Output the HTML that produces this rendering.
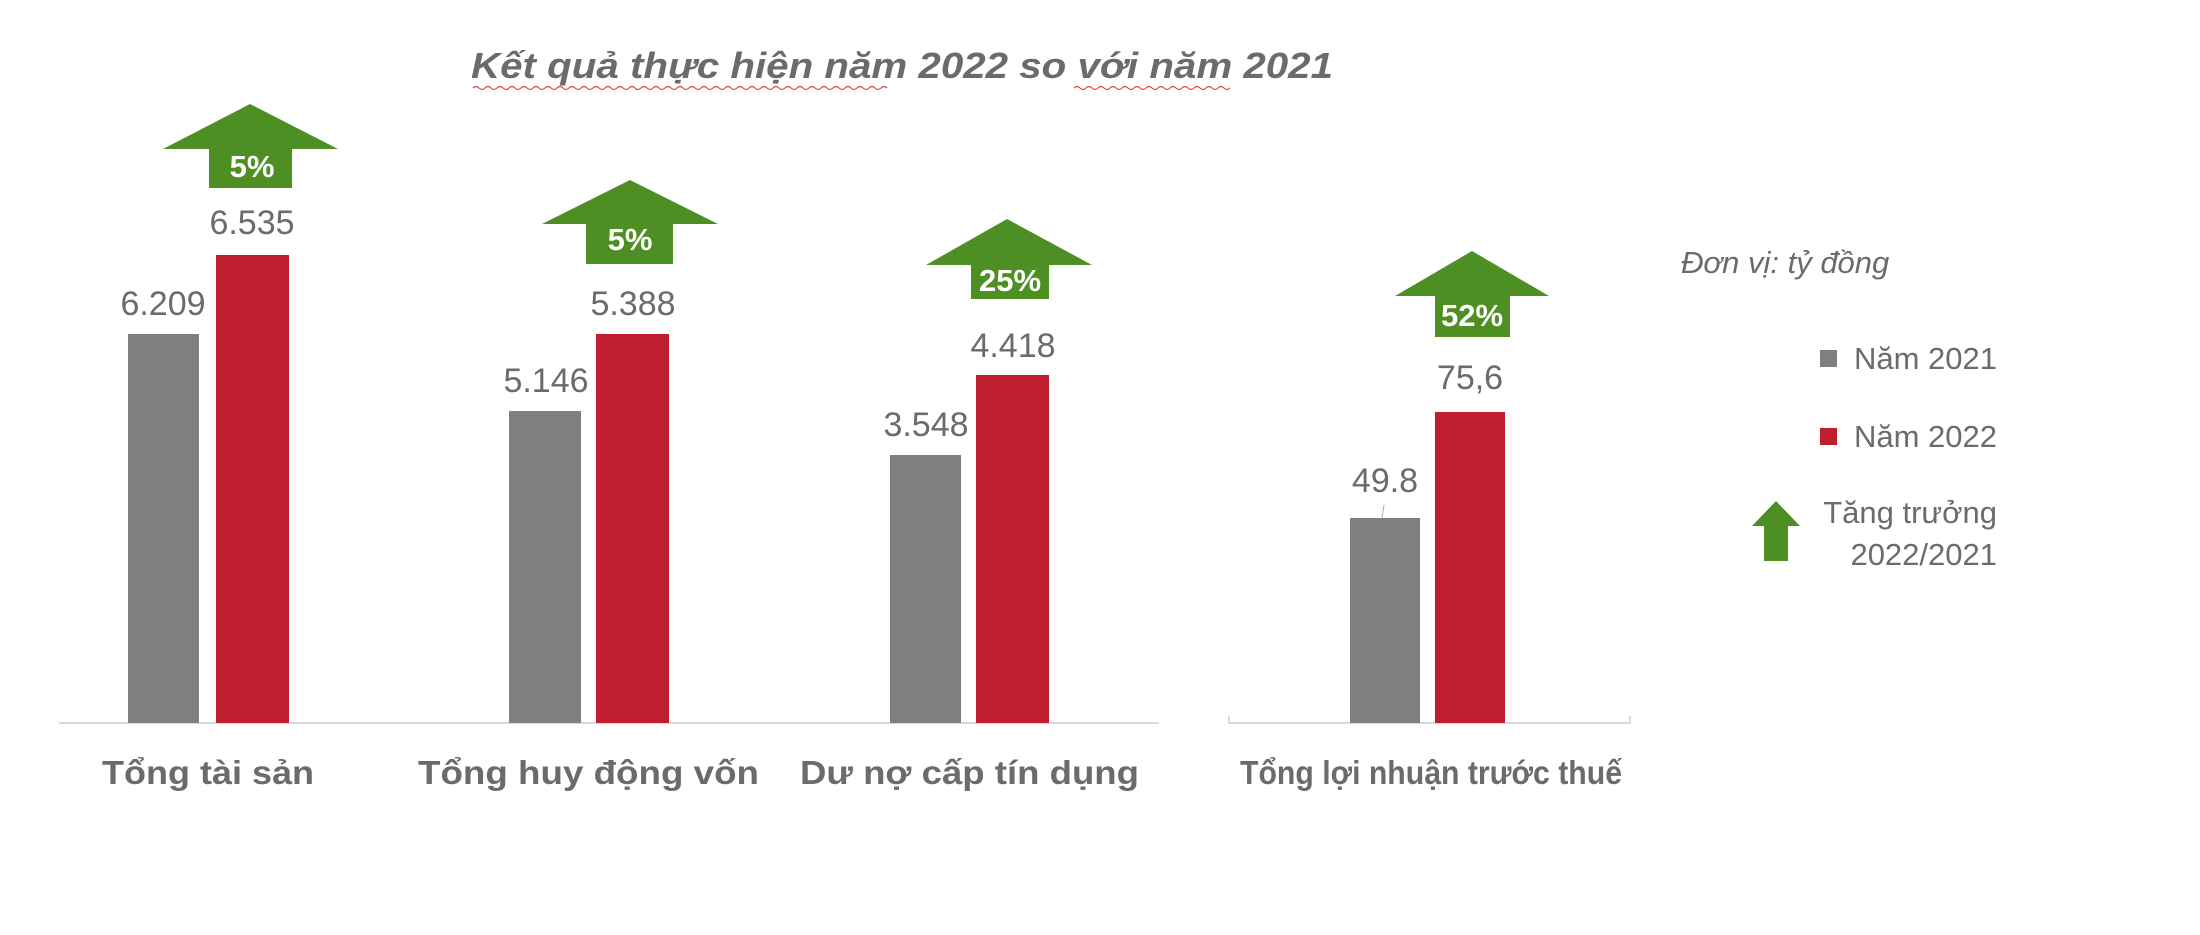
<!DOCTYPE html>
<html><head><meta charset="utf-8"><style>
body{margin:0;background:#fff;}
svg text{font-family:"Liberation Sans",sans-serif;}
</style></head><body>
<svg width="2200" height="930" viewBox="0 0 2200 930" xmlns="http://www.w3.org/2000/svg">
<rect width="2200" height="930" fill="#fff"/>
<text x="471" y="78" font-size="36" font-weight="bold" font-style="italic" fill="#6b6b6b" textLength="862" lengthAdjust="spacingAndGlyphs">Kết quả thực hiện năm 2022 so với năm 2021</text>
<path d="M473 88 q3 -3 6 0 t6 0 t6 0 t6 0 t6 0 t6 0 t6 0 t6 0 t6 0 t6 0 t6 0 t6 0 t6 0 t6 0 t6 0 t6 0 t6 0 t6 0 t6 0 t6 0 t6 0 t6 0 t6 0 t6 0 t6 0 t6 0 t6 0 t6 0 t6 0 t6 0 t6 0 t6 0 t6 0 t6 0 t6 0 t6 0 t6 0 t6 0 t6 0 t6 0 t6 0 t6 0 t6 0 t6 0 t6 0 t6 0 t6 0 t6 0 t6 0 t6 0 t6 0 t6 0 t6 0 t6 0 t6 0 t6 0 t6 0 t6 0 t6 0 t6 0 t6 0 t6 0 t6 0 t6 0 t6 0 t6 0 t6 0 t6 0 t6 0" fill="none" stroke="#e04040" stroke-width="1.2"/>
<path d="M1074 88 q3 -3 6 0 t6 0 t6 0 t6 0 t6 0 t6 0 t6 0 t6 0 t6 0 t6 0 t6 0 t6 0 t6 0 t6 0 t6 0 t6 0 t6 0 t6 0 t6 0 t6 0 t6 0 t6 0 t6 0 t6 0 t6 0 t6 0" fill="none" stroke="#e04040" stroke-width="1.2"/>
<line x1="59" y1="723" x2="1159" y2="723" stroke="#d9d9d9" stroke-width="2"/>
<path d="M1229 716 V723 H1630 V716" fill="none" stroke="#d9d9d9" stroke-width="2"/>
<g fill="#7f7f7f">
<rect x="128" y="334" width="71" height="389"/>
<rect x="509" y="411" width="72" height="312"/>
<rect x="890" y="455" width="71" height="268"/>
<rect x="1350" y="518" width="70" height="205"/>
</g>
<g fill="#be1e2d">
<rect x="216" y="255" width="73" height="468"/>
<rect x="596" y="334" width="73" height="389"/>
<rect x="976" y="375" width="73" height="348"/>
<rect x="1435" y="412" width="70" height="311"/>
</g>
<g font-size="34" fill="#6b6b6b" text-anchor="middle">
<text x="163" y="315">6.209</text>
<text x="252" y="234">6.535</text>
<text x="546" y="392">5.146</text>
<text x="633" y="315">5.388</text>
<text x="926" y="436">3.548</text>
<text x="1013" y="357">4.418</text>
<text x="1385" y="492">49.8</text>
<text x="1470" y="389">75,6</text>
</g>
<line x1="1384" y1="505" x2="1382" y2="518" stroke="#aaa" stroke-width="1"/>
<g fill="#4e8f24">
<path d="M250 104 L338 149 H292 V188 H209 V149 H163 Z"/>
<path d="M630 180 L718 224 H673 V264 H586 V224 H542 Z"/>
<path d="M1007 219 L1092 265 H1049 V299 H971 V265 H926 Z"/>
<path d="M1472 251 L1549 296 H1510 V337 H1435 V296 H1395 Z"/>
<path d="M1776 501 L1800 526 H1788 V561 H1764 V526 H1752 Z"/>
</g>
<g font-size="31" font-weight="bold" fill="#fff" text-anchor="middle">
<text x="252" y="177">5%</text>
<text x="630" y="250">5%</text>
<text x="1010" y="291">25%</text>
<text x="1472" y="326">52%</text>
</g>
<g font-size="33" font-weight="bold" fill="#6b6b6b">
<text x="102" y="784" textLength="212" lengthAdjust="spacingAndGlyphs">Tổng tài sản</text>
<text x="418" y="784" textLength="341" lengthAdjust="spacingAndGlyphs">Tổng huy động vốn</text>
<text x="800" y="784" textLength="339" lengthAdjust="spacingAndGlyphs">Dư nợ cấp tín dụng</text>
<text x="1240" y="784" textLength="382" lengthAdjust="spacingAndGlyphs">Tổng lợi nhuận trước thuế</text>
</g>
<text x="1681" y="273" font-size="31" font-style="italic" fill="#6b6b6b">Đơn vị: tỷ đồng</text>
<rect x="1820" y="350" width="17" height="17" fill="#7f7f7f"/>
<rect x="1820" y="428" width="17" height="17" fill="#be1e2d"/>
<g font-size="31" fill="#6b6b6b" text-anchor="end">
<text x="1997" y="369">Năm 2021</text>
<text x="1997" y="447">Năm 2022</text>
<text x="1997" y="523">Tăng trưởng</text>
<text x="1997" y="565">2022/2021</text>
</g>
</svg>
</body></html>
